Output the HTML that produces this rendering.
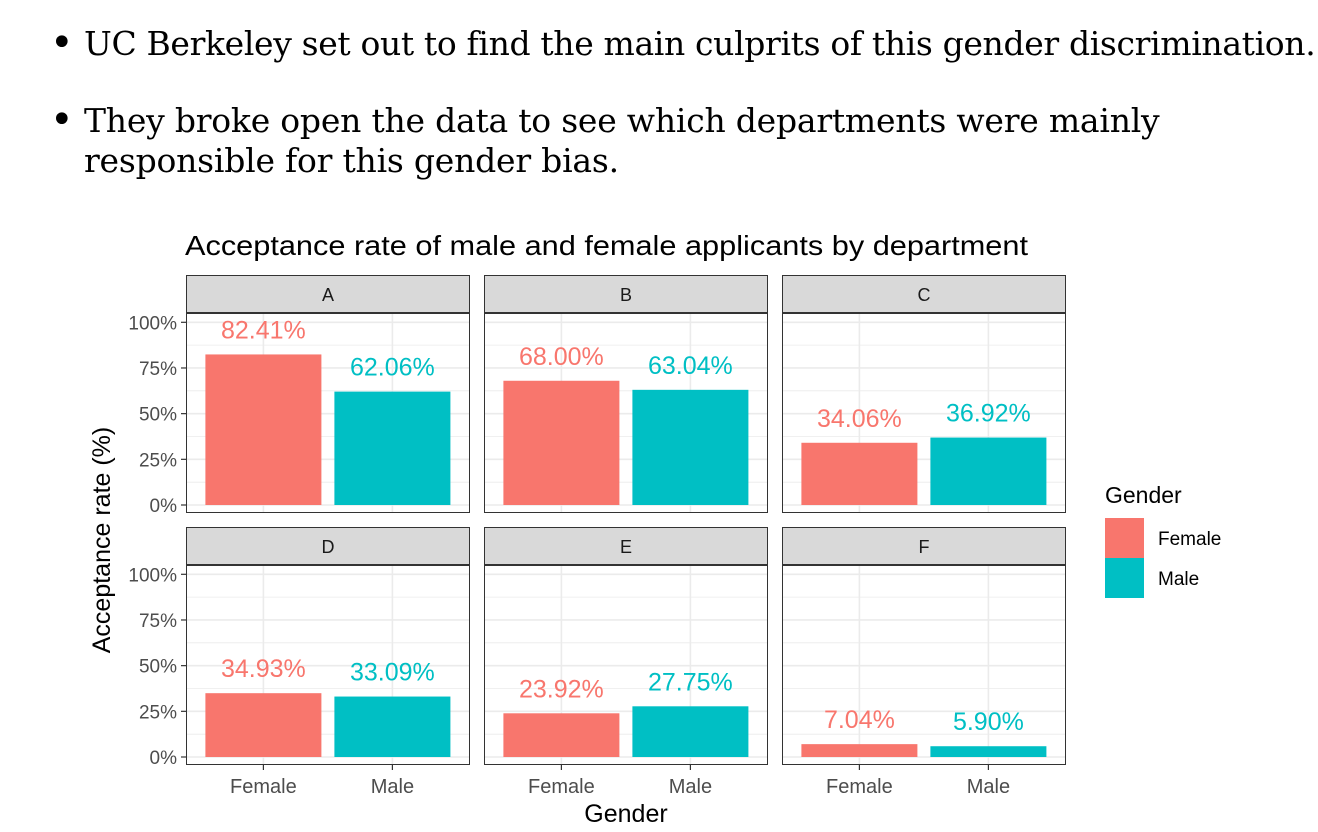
<!DOCTYPE html>
<html><head><meta charset="utf-8"><style>
body{margin:0;width:1318px;height:832px;background:#fff;overflow:hidden;position:relative}
.b{position:absolute;left:50px;font-family:"DejaVu Serif","Liberation Serif",serif;font-size:33px;color:#000}
.b span{position:absolute;left:0;font-size:40px;top:-4px}
</style></head><body>
<div class="b" style="top:24px"><span>•</span><div style="margin-left:34px;white-space:nowrap;letter-spacing:-0.35px">UC Berkeley set out to find the main culprits of this gender discrimination.</div></div>
<div class="b" style="top:101px"><span>•</span><div style="margin-left:34px;white-space:nowrap;line-height:40px;letter-spacing:-0.22px">They broke open the data to see which departments were mainly<br>responsible for this gender bias.</div></div>
<svg id="c" width="1318" height="832" style="position:absolute;left:0;top:0" font-family="Liberation Sans, sans-serif"></svg>
<script>
const departments=["A","B","C","D","E","F"];
const categories=["Female","Male"];
const femaleValues=[82.41,68.00,34.06,34.93,23.92,7.04];
const maleValues=[62.06,63.04,36.92,33.09,27.75,5.90];
const yTicks=[0,25,50,75,100];
const colors=["#F8766D","#00BFC4"];
const svg=document.getElementById('c');
const NS="http://www.w3.org/2000/svg";
function mk(t,a,txt){const e=document.createElementNS(NS,t);for(const k in a)e.setAttribute(k,a[k]);if(txt!=null)e.textContent=txt;svg.appendChild(e);return e;}
const panelX=[186,484,782],pw=284,rowTop=[275,527],stripH=38,plotH=200;
function y(v,r){const zero=rowTop[r]+stripH+192;return zero-v*1.827;}
function x(i,p){return panelX[p]+(0.6+i)*129;}
let t=mk('text',{x:185,y:255,'font-size':28,fill:'#000',textLength:843,lengthAdjust:'spacingAndGlyphs'},'Acceptance rate of male and female applicants by department');


departments.forEach((d,k)=>{
  const r=Math.floor(k/3),p=k%3,px=panelX[p],top=rowTop[r]+stripH;
  let g=mk('rect',{x:px,y:top,width:pw,height:plotH,fill:'#fff'});
  
  
  for(let v=12.5;v<=112.5;v+=25){if(y(v,r)>top)mk('line',{x1:px,x2:px+pw,y1:y(v,r),y2:y(v,r),stroke:'#ebebeb','stroke-width':0.8});}
  yTicks.forEach(v=>mk('line',{x1:px,x2:px+pw,y1:y(v,r),y2:y(v,r),stroke:'#ebebeb','stroke-width':1.6}));
  categories.forEach((c,i)=>mk('line',{x1:x(i,p),x2:x(i,p),y1:top,y2:top+plotH,stroke:'#ebebeb','stroke-width':1.6}));
  [femaleValues[k],maleValues[k]].forEach((v,i)=>{
    const b=mk('rect',{x:x(i,p)-58,y:y(v,r),width:116,height:y(0,r)-y(v,r),fill:colors[i]});
    
    
    const l=mk('text',{x:x(i,p),y:y(v,r)-16,'font-size':25,fill:colors[i],'text-anchor':'middle'},v.toFixed(2)+'%');
    
    
  });
  mk('rect',{x:px+0.5,y:top,width:pw-1,height:plotH-0.5,fill:'none',stroke:'#333','stroke-width':1});
  const s=mk('rect',{x:px+0.5,y:rowTop[r]+0.5,width:pw-1,height:stripH,fill:'#d9d9d9',stroke:'#333','stroke-width':1});
  
  
  mk('line',{x1:px,x2:px+pw,y1:top,y2:top,stroke:'#333','stroke-width':2});
  mk('text',{x:px+pw/2,y:rowTop[r]+26,'font-size':18,fill:'#1a1a1a','text-anchor':'middle'},d);
  if(p===0){yTicks.forEach(v=>{mk('line',{x1:px-5,x2:px,y1:y(v,r),y2:y(v,r),stroke:'#333','stroke-width':1.2});
    const tl=mk('text',{x:px-9,y:y(v,r)+7,'font-size':19,fill:'#4d4d4d','text-anchor':'end'},v+'%');
    
    });}
  if(r===1){categories.forEach((c,i)=>{mk('line',{x1:x(i,p),x2:x(i,p),y1:top+plotH,y2:top+plotH+5,stroke:'#333','stroke-width':1.2});
    const xl=mk('text',{x:x(i,p),y:top+plotH+28,'font-size':20,fill:'#4d4d4d','text-anchor':'middle'},c);
    
    });}
});
let xt=mk('text',{x:626,y:822,'font-size':25,fill:'#000','text-anchor':'middle'},'Gender');


let yt=mk('text',{x:0,y:0,'font-size':25,fill:'#000','text-anchor':'middle',transform:'translate(110,540) rotate(-90)'},'Acceptance rate (%)');


let lt=mk('text',{x:1105,y:503,'font-size':23,fill:'#000'},'Gender');


categories.forEach((c,i)=>{
  const k=mk('rect',{x:1105,y:518+i*40,width:39,height:40,fill:colors[i]});
  
  
  const e=mk('text',{x:1158,y:545+i*40,'font-size':19,fill:'#000'},c);
  
  
});
</script>
</body></html>
